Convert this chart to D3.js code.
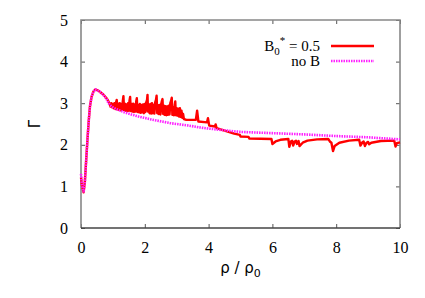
<!DOCTYPE html>
<html>
<head>
<meta charset="utf-8">
<script src="https://cdn.jsdelivr.net/npm/d3@7"></script>
<style>
  body { margin: 0; background: #fff; }
  svg { display: block; }
  .serif { font-family: 'Liberation Serif', 'Times New Roman', 'DejaVu Serif', serif; }
  .sans { font-family: 'DejaVu Sans', 'Liberation Sans', sans-serif; }
</style>
</head>
<body>
<div id="chart"></div>
<script>
// series: [rho / rho0, Gamma]
const withB = [
  [0, 1.22], [0.03, 1.02], [0.08, 0.86], [0.12, 1.1], [0.16, 1.6], [0.2, 2.1], [0.24, 2.55],
  [0.28, 2.92], [0.33, 3.15], [0.39, 3.28], [0.45, 3.33], [0.52, 3.31], [0.6, 3.27], [0.7, 3.21],
  [0.8, 3.12], [0.85, 3.06],
  [0.9, 2.98], [0.925, 2.92], [0.95, 3.0], [0.975, 2.9], [1.0, 2.98], [1.025, 2.88], [1.05, 3.0],
  [1.075, 2.86], [1.1, 3.02], [1.12, 3.08], [1.14, 2.85], [1.165, 2.99], [1.19, 2.84], [1.215, 3.0],
  [1.24, 2.83], [1.265, 2.98], [1.29, 2.84], [1.31, 3.05], [1.33, 3.17], [1.35, 2.83], [1.375, 2.99],
  [1.4, 2.82], [1.425, 2.97], [1.45, 2.81], [1.475, 3.0], [1.5, 2.82], [1.52, 3.06], [1.54, 3.15],
  [1.56, 2.81], [1.585, 2.98], [1.61, 2.8], [1.635, 2.99], [1.66, 2.79], [1.685, 2.97], [1.71, 2.8],
  [1.73, 3.04], [1.75, 3.12], [1.77, 2.79], [1.795, 2.96], [1.82, 2.78], [1.845, 2.98], [1.87, 2.77],
  [1.895, 2.96], [1.92, 2.78], [1.945, 2.97], [1.97, 2.76], [1.995, 2.98], [2.02, 2.79], [2.045, 3.02],
  [2.07, 3.08], [2.085, 3.2], [2.1, 2.8], [2.125, 2.97], [2.15, 2.76], [2.175, 2.98], [2.2, 2.75],
  [2.225, 3.0], [2.25, 2.76], [2.275, 2.96], [2.3, 2.75], [2.325, 3.02], [2.35, 3.08], [2.37, 3.18],
  [2.39, 2.76], [2.415, 2.95], [2.44, 2.74], [2.465, 2.96], [2.49, 2.73], [2.515, 2.98], [2.535, 3.05],
  [2.555, 3.1], [2.575, 2.74], [2.6, 2.94], [2.625, 2.72], [2.65, 2.93], [2.675, 2.71], [2.7, 2.92],
  [2.725, 2.72], [2.75, 2.94], [2.775, 2.73], [2.8, 3.0], [2.825, 3.06], [2.845, 3.13], [2.865, 2.72],
  [2.89, 2.9], [2.915, 2.71], [2.94, 2.96], [2.955, 3.04], [2.975, 2.71], [3.0, 2.88], [3.025, 2.7],
  [3.05, 2.87], [3.075, 2.68], [3.1, 2.88], [3.125, 2.67], [3.15, 2.82], [3.175, 2.65], [3.2, 2.74],
  [3.225, 2.62],
  [3.3, 2.6], [3.6, 2.6], [3.64, 2.82], [3.68, 2.56], [3.95, 2.54], [3.98, 2.64], [4.02, 2.46],
  [4.2, 2.44], [4.22, 2.49], [4.25, 2.4], [4.5, 2.34], [4.8, 2.27], [4.98, 2.24], [5.0, 2.2],
  [5.25, 2.19], [5.28, 2.15], [5.97, 2.14], [6.0, 2.02], [6.1, 2.08], [6.25, 2.12], [6.5, 2.14],
  [6.53, 1.95], [6.58, 2.08], [6.62, 2.1], [6.65, 1.98], [6.7, 2.08], [6.74, 2.1], [6.77, 2.02],
  [6.82, 2.09], [6.85, 1.97], [6.95, 2.05], [7.1, 2.1], [7.4, 2.13], [7.75, 2.14], [7.8, 2.08],
  [7.85, 2.05], [7.9, 1.85], [7.95, 1.97], [8.1, 2.05], [8.4, 2.1], [8.72, 2.12], [8.76, 1.98],
  [8.82, 2.06], [8.86, 2.08], [8.9, 1.97], [8.95, 2.05], [9.0, 2.07], [9.03, 2.01], [9.1, 2.05],
  [9.4, 2.09], [9.82, 2.1], [9.86, 1.96], [9.9, 2.04], [10, 2.06]
];

const noB = [
  [0, 1.3], [0.03, 1.05], [0.08, 0.86], [0.12, 1.1], [0.16, 1.6], [0.2, 2.1], [0.24, 2.55],
  [0.28, 2.92], [0.33, 3.15], [0.39, 3.28], [0.45, 3.33], [0.52, 3.31], [0.6, 3.27], [0.7, 3.2],
  [0.8, 3.1], [0.85, 3.02], [0.9, 2.96], [1.0, 2.9], [1.1, 2.86], [1.4, 2.77], [1.8, 2.68],
  [2.2, 2.61], [2.8, 2.52], [3.4, 2.46], [3.7, 2.42], [4.0, 2.39], [4.6, 2.34], [5.0, 2.31],
  [6, 2.28], [7, 2.25], [8, 2.21], [9, 2.18], [10, 2.13]
];

const xTicks = [0, 2, 4, 6, 8, 10];
const yTicks = [0, 1, 2, 3, 4, 5];

const W = 425, H = 298;
const margin = {top: 20, right: 25, bottom: 70, left: 81};
const width = W - margin.left - margin.right;
const height = H - margin.top - margin.bottom;

const svg = d3.select('#chart').append('svg')
  .attr('width', W)
  .attr('height', H);

const g = svg.append('g')
  .attr('transform', 'translate(' + margin.left + ',' + margin.top + ')');

const x = d3.scaleLinear().domain([0, 10]).range([0, width]);
const y = d3.scaleLinear().domain([0, 5]).range([height, 0]);

const frameColor = '#888';

// ticks, all inward, mirrored on top and right
const tickLen = 4;
function styleAxis(sel) {
  sel.attr('font-family', null).attr('font-size', null);
  sel.select('.domain').remove();
  sel.selectAll('.tick line').attr('stroke', '#555').attr('stroke-width', 1);
  sel.selectAll('text').attr('class', 'serif').style('font-size', '16px').attr('fill', '#000');
}
g.append('g')
  .attr('transform', 'translate(0,' + height + ')')
  .call(d3.axisBottom(x).tickValues(xTicks).tickFormat(d3.format('d')).tickSize(-tickLen).tickPadding(10 + tickLen))
  .call(styleAxis);
g.append('g')
  .call(d3.axisTop(x).tickValues(xTicks).tickSize(-tickLen).tickFormat(''))
  .call(styleAxis);
g.append('g')
  .call(d3.axisLeft(y).tickValues(yTicks).tickFormat(d3.format('d')).tickSize(-tickLen).tickPadding(9 + tickLen))
  .call(styleAxis);
g.append('g')
  .attr('transform', 'translate(' + width + ',0)')
  .call(d3.axisRight(y).tickValues(yTicks).tickSize(-tickLen).tickFormat(''))
  .call(styleAxis);

// frame
g.append('path')
  .attr('d', 'M0,' + height + 'V0H' + width + 'V' + height)
  .attr('fill', 'none')
  .attr('stroke', frameColor)
  .attr('stroke-width', 1.6);
g.append('line')
  .attr('x1', 0).attr('x2', width)
  .attr('y1', height).attr('y2', height)
  .attr('stroke', '#444')
  .attr('stroke-width', 1.4);

const line = d3.line()
  .x((d) => x(d[0]))
  .y((d) => y(d[1]));

g.append('path')
  .datum(withB)
  .attr('fill', 'none')
  .attr('stroke', '#ff0000')
  .attr('stroke-width', 2.4)
  .attr('stroke-linejoin', 'round')
  .attr('d', line);

g.append('path')
  .datum(noB)
  .attr('fill', 'none')
  .attr('stroke', '#ff22ff')
  .attr('stroke-width', 2.6)
  .attr('stroke-dasharray', '1.5,1')
  .attr('d', line);

// legend
const lx1 = 331, lx2 = 374;
svg.append('line')
  .attr('x1', lx1).attr('x2', lx2).attr('y1', 46).attr('y2', 46)
  .attr('stroke', '#ff0000').attr('stroke-width', 2.4);
svg.append('line')
  .attr('x1', lx1).attr('x2', lx2).attr('y1', 61).attr('y2', 61)
  .attr('stroke', '#ff22ff').attr('stroke-width', 2.6).attr('stroke-dasharray', '1.5,1');

const lt1 = svg.append('text')
  .attr('class', 'serif')
  .attr('x', 320).attr('y', 51)
  .attr('text-anchor', 'end')
  .style('font-size', '15px');
lt1.append('tspan').text('B');
lt1.append('tspan').attr('dy', 4).style('font-size', '11px').text('0');
lt1.append('tspan').attr('dy', -11).style('font-size', '11px').text('*');
lt1.append('tspan').attr('dy', 7).text(' = 0.5');

svg.append('text')
  .attr('class', 'serif')
  .attr('x', 320).attr('y', 66)
  .attr('text-anchor', 'end')
  .style('font-size', '15px')
  .text('no B');

// axis titles
svg.append('text')
  .attr('class', 'sans')
  .attr('transform', 'translate(40,' + (margin.top + height / 2) + ') rotate(-90)')
  .attr('text-anchor', 'middle')
  .style('font-size', '15px')
  .text('Γ');

const xt = svg.append('text')
  .attr('class', 'sans')
  .attr('x', margin.left + width / 2)
  .attr('y', 273)
  .attr('text-anchor', 'middle')
  .style('font-size', '15px');
xt.append('tspan').text('ρ / ρ');
xt.append('tspan').attr('dy', 4).style('font-size', '11px').text('0');
</script>
</body>
</html>
